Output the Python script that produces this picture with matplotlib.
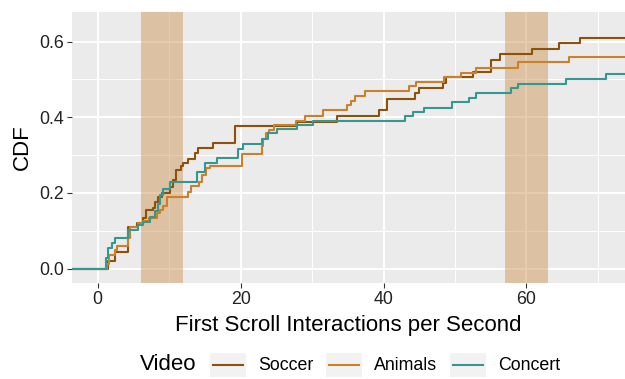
import matplotlib
matplotlib.use('Agg')
import matplotlib.pyplot as plt
from matplotlib.patches import Rectangle
from matplotlib.lines import Line2D

plt.rcParams['font.family'] = ['Liberation Sans', 'DejaVu Sans']

# step points (x where the CDF jumps, new CDF value)
soccer_x = [-10, 1.5, 2.45, 4.3, 5.5, 6.4, 6.8, 7.8, 8.0, 8.5, 9.0, 10.1, 10.6, 10.9, 11.6, 12.0,
            12.7, 13.6, 14.1, 16.2, 19.2, 27.9, 33.5, 39.3, 40.5, 44.4, 45.0, 48.3, 48.8, 52.5,
            55.0, 56.3, 60.8, 64.6, 67.5, 90]
soccer_y = [0, 0.02, 0.045, 0.11, 0.12, 0.135, 0.155, 0.16, 0.175, 0.19, 0.2, 0.215, 0.234, 0.26,
            0.27, 0.28, 0.29, 0.305, 0.318, 0.333, 0.377, 0.388, 0.403, 0.418, 0.447, 0.463,
            0.477, 0.49, 0.505, 0.52, 0.55, 0.566, 0.58, 0.595, 0.61, 0.61]

animals_x = [-10, 1.3, 1.6, 2.45, 2.7, 4.3, 4.5, 5.6, 6.3, 7.2, 8.3, 8.7, 9.1, 9.7, 12.7, 13.1,
             14.2, 14.6, 15.2, 15.7, 20.2, 23.0, 23.2, 23.6, 24.0, 24.7, 27.8, 29.0, 31.6, 34.9,
             35.5, 36.0, 37.4, 43.6, 44.5, 48.5, 50.9, 52.9, 58.8, 66.0, 90]
animals_y = [0, 0.012, 0.036, 0.05, 0.06, 0.08, 0.11, 0.12, 0.125, 0.135, 0.146, 0.155, 0.165,
             0.19, 0.203, 0.217, 0.23, 0.248, 0.265, 0.272, 0.302, 0.324, 0.342, 0.358, 0.366,
             0.38, 0.39, 0.404, 0.419, 0.431, 0.444, 0.457, 0.469, 0.482, 0.494, 0.507, 0.518,
             0.53, 0.545, 0.558, 0.558]

concert_x = [-10, 1.1, 1.4, 2.0, 2.45, 4.3, 5.7, 6.3, 7.25, 8.0, 8.5, 8.75, 9.2, 10.05, 13.9,
             15.0, 16.7, 19.7, 20.4, 23.0, 23.9, 25.1, 27.9, 30.2, 43.0, 44.1, 45.7, 49.6, 51.9,
             53.0, 57.9, 58.8, 65.5, 71.1, 90]
concert_y = [0, 0.027, 0.054, 0.067, 0.08, 0.102, 0.115, 0.124, 0.137, 0.151, 0.17, 0.195, 0.21,
             0.23, 0.256, 0.278, 0.292, 0.315, 0.329, 0.343, 0.358, 0.368, 0.38, 0.39, 0.402,
             0.414, 0.425, 0.44, 0.452, 0.464, 0.476, 0.489, 0.501, 0.513, 0.513]

labels = ['Soccer', 'Animals', 'Concert']
colors = ['#8c510a', '#c9822b', '#35978f']
bands = [(6, 12), (57, 63)]

fig = plt.figure(figsize=(6.25, 3.79), dpi=100)
ax = fig.add_axes([72 / 625, 1 - 283 / 379, 553 / 625, 271 / 379])
ax.set_facecolor('#EBEBEB')

# grid
for v in [10, 30, 50, 70]:
    ax.axvline(v, color='white', lw=0.7, zorder=0)
for v in [0.1, 0.3, 0.5]:
    ax.axhline(v, color='white', lw=0.7, zorder=0)
for v in [0, 20, 40, 60]:
    ax.axvline(v, color='white', lw=1.4, zorder=0)
for v in [0, 0.2, 0.4, 0.6]:
    ax.axhline(v, color='white', lw=1.4, zorder=0)

for a, b in bands:
    ax.axvspan(a, b, color='#cf995b', alpha=0.5, lw=0, zorder=1)

series = [(soccer_x, soccer_y), (animals_x, animals_y), (concert_x, concert_y)]
for (xs, ys), c in zip(series, colors):
    ax.step(xs, ys, where='post', color=c, lw=1.5, zorder=3)

ax.set_xlim(-3.6, 73.8)
ax.set_ylim(-0.038, 0.678)
ax.set_xticks([0, 20, 40, 60])
ax.set_yticks([0, 0.2, 0.4, 0.6])
ax.set_yticklabels(['0.0', '0.2', '0.4', '0.6'])
ax.tick_params(length=3.5, width=0.8, color='#333333', labelcolor='#222222', labelsize=12.8, pad=2)
for s in ax.spines.values():
    s.set_visible(False)
ax.set_xlabel('First Scroll Interactions per Second', fontsize=16, labelpad=5)
ax.set_ylabel('CDF', fontsize=16, labelpad=5)

# legend at the bottom, drawn like ggplot's
ly = 1 - 365 / 379
fig.text(140 / 625, ly, 'Video', fontsize=16, ha='left', va='center')
key_x = [210, 326, 450]
for kx, lab, c in zip(key_x, labels, colors):
    fig.add_artist(Rectangle((kx / 625, ly - 12 / 379), 36 / 625, 24 / 379,
                             transform=fig.transFigure, color='#F2F2F2', lw=0))
    fig.add_artist(Line2D([(kx + 3) / 625, (kx + 33) / 625], [ly, ly],
                          transform=fig.transFigure, color=c, lw=1.5))
    fig.text((kx + 48) / 625, ly, lab, fontsize=12.8, ha='left', va='center')

fig.savefig('out.png', dpi=100)
